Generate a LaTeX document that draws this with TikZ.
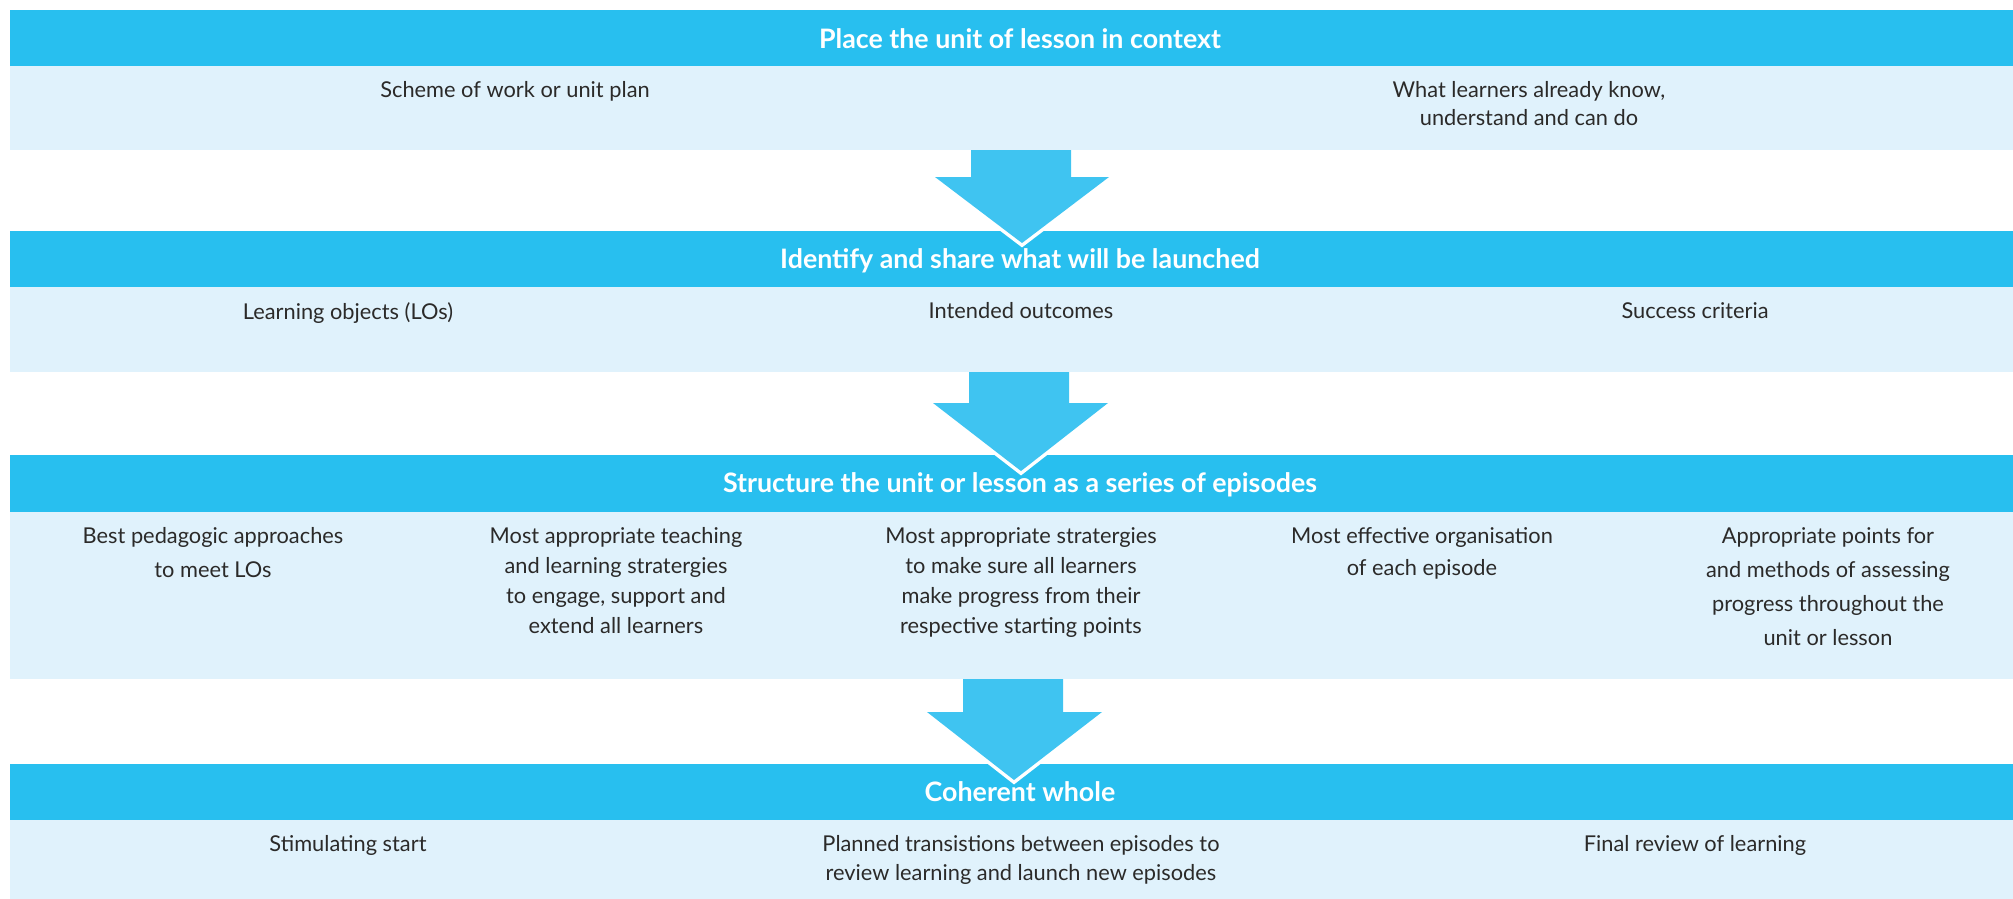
\documentclass[tikz,border=0pt]{standalone}
\usepackage{fontspec}
\setmainfont{Lato}
\definecolor{hdr}{HTML}{28BFEF}
\definecolor{lite}{HTML}{E0F2FC}
\definecolor{arrowc}{HTML}{3FC4F1}
\definecolor{txt}{HTML}{2B2A29}
\begin{document}
\begin{tikzpicture}[x=1pt,y=-1pt,
  hdrbar/.style={fill=hdr},
  litebar/.style={fill=lite},
  htext/.style={text=white, anchor=base, inner sep=0pt, font=\fontsize{26.8}{30}\selectfont\bfseries},
  btext/.style={text=txt, anchor=north, align=center, inner sep=0pt, font=\fontsize{21.8}{#1}\selectfont},
  btext/.default=28,
  blockarrow/.style={fill=arrowc},
  arrowrim/.style={draw=white, line width=7pt, line join=miter}
]
\useasboundingbox (0,0) rectangle (2013,898);

% ---- Row 1
\fill[litebar] (10,66) rectangle (2020,150);
\fill[hdrbar] (10,10) rectangle (2020,66);
\node[htext] (h1) at (1020,48) {Place the unit of lesson in context};
\node[btext] (r1a) at (515,81) {Scheme of work or unit plan};
\node[btext=28] (r1b) at (1529,81) {What learners already know,\\understand and can do};

% ---- Row 2
\fill[litebar] (10,287) rectangle (2020,372);
\fill[hdrbar] (10,231) rectangle (2020,287);
\node[htext] (h2) at (1020,268) {Identify and share what will be launched};
\node[btext] (r2a) at (348,302) {Learning objects (LOs)};
\node[btext] (r2b) at (1021,302) {Intended outcomes};
\node[btext] (r2c) at (1695,302) {Success criteria};

% ---- Row 3
\fill[litebar] (10,512) rectangle (2020,679);
\fill[hdrbar] (10,455) rectangle (2020,512);
\node[htext] (h3) at (1020,492) {Structure the unit or lesson as a series of episodes};
\node[btext=34] (r3a) at (213,527) {Best pedagogic approaches\\to meet LOs};
\node[btext=30] (r3b) at (616,527) {Most appropriate teaching\\and learning stratergies\\to engage, support and\\extend all learners};
\node[btext=30] (r3c) at (1021,527) {Most appropriate stratergies\\to make sure all learners\\make progress from their\\respective starting points};
\node[btext=32] (r3d) at (1422,527) {Most effective organisation\\of each episode};
\node[btext=34] (r3e) at (1828,527) {Appropriate points for\\and methods of assessing\\progress throughout the\\unit or lesson};

% ---- Row 4
\fill[litebar] (10,820) rectangle (2020,900);
\fill[hdrbar] (10,764) rectangle (2020,820);
\node[htext] (h4) at (1020,801) {Coherent whole};
\node[btext] (r4a) at (348,835) {Stimulating start};
\node[btext=29] (r4b) at (1021,835) {Planned transistions between episodes to\\review learning and launch new episodes};
\node[btext] (r4c) at (1695,835) {Final review of learning};

% ---- Block arrows
\draw[arrowrim] (935,177) -- (1022,243) -- (1109,177);
\fill[blockarrow] (971,150) -- (1071,150) -- (1071,177) -- (1109,177) -- (1022,243) -- (935,177) -- (971,177) -- cycle;

\draw[arrowrim] (933,403) -- (1021,471) -- (1108,403);
\fill[blockarrow] (969,372) -- (1069,372) -- (1069,403) -- (1108,403) -- (1021,471) -- (933,403) -- (969,403) -- cycle;

\draw[arrowrim] (927,712) -- (1014,780) -- (1102,712);
\fill[blockarrow] (963,679) -- (1063,679) -- (1063,712) -- (1102,712) -- (1014,780) -- (927,712) -- (963,712) -- cycle;
\end{tikzpicture}
\end{document}
